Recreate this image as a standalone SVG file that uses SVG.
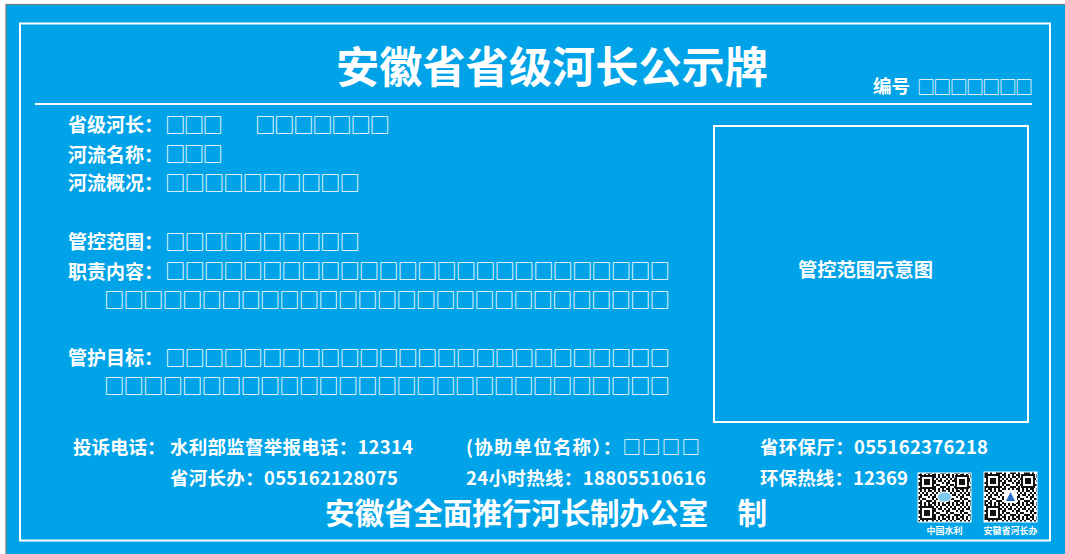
<svg xmlns="http://www.w3.org/2000/svg" width="1065" height="554" viewBox="0 0 1065 554">
  <style>
    .lbl { font-family: "Liberation Serif", "Noto Sans CJK SC", serif; font-weight: 700; fill: #ffffff; }
    .sq { font-family: "Noto Sans CJK SC", sans-serif; font-weight: 400; fill: #ffffff; }
    .bt { font-family: "Noto Sans CJK SC", "Noto Sans", sans-serif; font-weight: 700; fill: #ffffff; font-size: 18.5px; }
    .wl { stroke: #ffffff; fill: none; }
  </style>
  <defs>
    <pattern id="qrnoise" patternUnits="userSpaceOnUse" width="14" height="14">
      <rect width="14" height="14" fill="#ffffff"/>
      <path fill="#111111" d="M0 0h2v2H0zM4 0h4v2H4zM10 0h2v2h-2zM2 2h2v2H2zM8 2h2v2H8zM12 2h2v2h-2zM0 4h4v2H0zM6 4h2v2H6zM10 4h2v2h-2zM4 6h2v2H4zM8 6h4v2H8zM0 8h2v2H0zM2 10h4v2H2zM8 8h2v2H8zM12 8h2v2h-2zM6 10h2v2H6zM10 10h2v2h-2zM0 12h2v2H0zM4 12h2v2H4zM8 12h4v2H8z"/>
    </pattern>
    <g id="finder">
      <rect x="0" y="0" width="14" height="14" fill="#111111"/>
      <rect x="2" y="2" width="10" height="10" fill="#ffffff"/>
      <rect x="4" y="4" width="6" height="6" fill="#111111"/>
    </g>
  </defs>

  <rect x="0" y="0" width="1065" height="554" fill="#ffffff"/>
  <rect id="board" x="6" y="4.5" width="1065" height="560" fill="#00A3E7" stroke="#777777" stroke-width="1.2"/>

  <g id="frame">
    <rect class="wl" x="20" y="23.5" width="1030" height="517" stroke-width="2"/>
    <line class="wl" x1="35" y1="104" x2="1032" y2="104" stroke-width="2.2"/>
  </g>

  <g id="title">
    <text class="lbl" x="336" y="83" font-size="43" textLength="432" lengthAdjust="spacingAndGlyphs">安徽省省级河长公示牌</text>
  </g>

  <g id="serial">
    <text class="lbl" x="873" y="93" font-size="18.5">编号</text>
    <text class="sq" x="917" y="94" font-size="18" textLength="116">□□□□□□□</text>
  </g>

  <g id="info">
    <text class="lbl" x="68" y="132" font-size="19">省级河长：</text>
    <text class="sq" x="165" y="133" font-size="20.5" textLength="58">□□□</text>
    <text class="sq" x="255" y="133" font-size="20.5" textLength="135">□□□□□□□</text>

    <text class="lbl" x="68" y="162" font-size="19">河流名称：</text>
    <text class="sq" x="165" y="162" font-size="20.5" textLength="58">□□□</text>

    <text class="lbl" x="68" y="190" font-size="19">河流概况：</text>
    <text class="sq" x="165" y="191" font-size="20.5" textLength="195">□□□□□□□□□□</text>

    <text class="lbl" x="68" y="249" font-size="19">管控范围：</text>
    <text class="sq" x="165" y="250" font-size="20.5" textLength="195">□□□□□□□□□□</text>

    <text class="lbl" x="68" y="279" font-size="19">职责内容：</text>
    <text class="sq" x="165" y="279" font-size="20.5" textLength="505">□□□□□□□□□□□□□□□□□□□□□□□□□□</text>
    <text class="sq" x="104" y="308" font-size="20.5" textLength="566">□□□□□□□□□□□□□□□□□□□□□□□□□□□□□</text>

    <text class="lbl" x="68" y="365" font-size="19">管护目标：</text>
    <text class="sq" x="165" y="366" font-size="20.5" textLength="505">□□□□□□□□□□□□□□□□□□□□□□□□□□</text>
    <text class="sq" x="104" y="394" font-size="20.5" textLength="566">□□□□□□□□□□□□□□□□□□□□□□□□□□□□□</text>
  </g>

  <g id="map-box">
    <rect class="wl" x="714" y="126" width="314" height="296" stroke-width="2"/>
    <text class="lbl" x="798" y="277" font-size="19" textLength="135" lengthAdjust="spacingAndGlyphs">管控范围示意图</text>
  </g>

  <g id="contacts">
    <text class="bt" x="73" y="454">投诉电话：</text>
    <text class="bt" x="170" y="454" textLength="243">水利部监督举报电话：12314</text>
    <text class="bt" x="466" y="454" textLength="234">(协助单位名称）：<tspan class="sq" font-weight="400">□□□□</tspan></text>
    <text class="bt" x="760" y="454" textLength="228">省环保厅：055162376218</text>

    <text class="bt" x="170" y="485" textLength="228">省河长办：055162128075</text>
    <text class="bt" x="466" y="485" textLength="240">24小时热线：18805510616</text>
    <text class="bt" x="760" y="485" textLength="148">环保热线：12369</text>
  </g>

  <g id="issuer">
    <text class="lbl" x="325" y="524" font-size="29.6" textLength="442">安徽省全面推行河长制办公室　制</text>
  </g>

  <g id="qr-mwr">
    <rect x="918" y="473" width="53" height="49" fill="url(#qrnoise)"/>
    <rect x="918" y="473" width="53" height="49" fill="none" stroke="#ffffff" stroke-width="1"/>
    <use href="#finder" x="920" y="475"/>
    <use href="#finder" x="955" y="475"/>
    <use href="#finder" x="920" y="506"/>
    <ellipse cx="944.5" cy="497" rx="7" ry="5" fill="#7EC8F0" stroke="#ffffff" stroke-width="1"/>
    <text class="lbl" x="944.5" y="534" font-size="9" text-anchor="middle">中国水利</text>
  </g>

  <g id="qr-ahhz">
    <rect x="984" y="472" width="53" height="50" fill="url(#qrnoise)"/>
    <rect x="984" y="472" width="53" height="50" fill="none" stroke="#ffffff" stroke-width="1"/>
    <use href="#finder" x="986" y="474"/>
    <use href="#finder" x="1021" y="474"/>
    <use href="#finder" x="986" y="506"/>
    <rect x="1004" y="490" width="13" height="13" fill="#ffffff"/>
    <polygon points="1010.5,492 1015,501 1006,501" fill="#2A6FC9"/>
    <text class="lbl" x="1010.5" y="534" font-size="9" text-anchor="middle">安徽省河长办</text>
  </g>
</svg>
